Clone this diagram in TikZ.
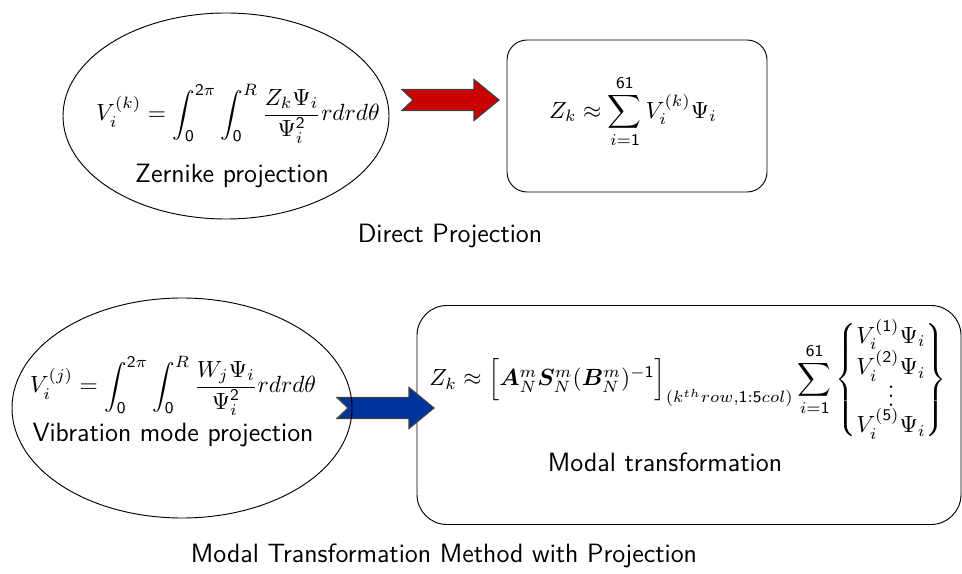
\documentclass[tikz,border=0pt]{standalone}
\usepackage{amsmath}
\usepackage{amssymb}
\usepackage{bm}
\usepackage{tikz}
\usetikzlibrary{shapes.geometric, positioning}
\definecolor{myred}{rgb}{0.80, 0.00, 0.00}
\definecolor{myblue}{rgb}{0.00, 0.20, 0.60}
% sans digits in formulas
\DeclareSymbolFont{sfdigits}{OT1}{cmss}{m}{n}
\DeclareMathSymbol{0}{\mathalpha}{sfdigits}{"30}
\DeclareMathSymbol{1}{\mathalpha}{sfdigits}{"31}
\DeclareMathSymbol{2}{\mathalpha}{sfdigits}{"32}
\DeclareMathSymbol{5}{\mathalpha}{sfdigits}{"35}
\DeclareMathSymbol{6}{\mathalpha}{sfdigits}{"36}
\tikzstyle{method} = [ellipse, draw=black, inner sep=0pt]
\tikzstyle{result} = [rectangle, draw=black, inner sep=0pt]
\tikzstyle{label} = [font=\sffamily\fontsize{11.3}{13.5}\selectfont]
\tikzstyle{formula} = [font=\fontsize{10}{12}\selectfont]
\tikzstyle{blockarrow} = [draw=black!75, line width=0.5pt]
% tail of a block arrow at #1, filled with #2
\newcommand{\blockarr}[2]{%
  \draw[blockarrow, fill=#2] (#1) ++(0,-10.5) -- ++(72,0) -- ++(0,-10) -- ++(25,20.5)
    -- ++(-25,20.5) -- ++(0,-10) -- ++(-72,0) -- ++(11,-10.5) -- cycle;}

\begin{document}
\begin{tikzpicture}[x=0.015cm, y=-0.015cm]
    \useasboundingbox (0,0) rectangle (962,574);

    % direct projection
    \node (zern) [method, minimum width=4.89cm, minimum height=3.09cm] at (226,116) {};
    \node (zernf) [formula, font=\fontsize{9.6}{11.5}\selectfont] at (238,114) {$V_i^{(k)}=\displaystyle\int_0^{2\pi}\int_0^R\frac{Z_k\Psi_i}{\Psi_i^2}rdrd\theta$};
    \node (zernl) [label] at (232,176) {Zernike projection};
    \coordinate (redtail) at (402,100);
    \blockarr{redtail}{myred}
    \node (sum) [result, rounded corners=0.3cm, minimum width=3.9cm, minimum height=2.28cm] at (637,116) {};
    \node (sumf) [formula] at (633,112) {$Z_k\approx\displaystyle\sum_{i=1}^{61}V_i^{(k)}\Psi_i$};
    \node (direct) [label] at (450,236) {Direct Projection};

    % modal transformation
    \node (modal) [result, rounded corners=0.45cm, minimum width=8.16cm, minimum height=3.285cm] at (689,415) {};
    \coordinate (bluetail) at (337,408);
    \blockarr{bluetail}{myblue}
    \node (vib) [method, minimum width=5.1cm, minimum height=3.3cm] at (182,408) {};
    \node (vibf) [formula, font=\fontsize{9.6}{11.5}\selectfont] at (173,386) {$V_i^{(j)}=\displaystyle\int_0^{2\pi}\int_0^R\frac{W_j\Psi_i}{\Psi_i^2}rdrd\theta$};
    \node (vibl) [label] at (173,435) {Vibration mode projection};
    \node (modalf) [formula] at (688,380) {$Z_k\approx\Big[\bm{A}_N^m\bm{S}_N^m(\bm{B}_N^m)^{-1}\Big]_{(k^{th}row,1:5col)}\displaystyle\sum_{i=1}^{61}\begin{Bmatrix}V_i^{(1)}\Psi_i\\[-0.5pt]V_i^{(2)}\Psi_i\\[-5pt]\vdots\\[-3pt]V_i^{(5)}\Psi_i\end{Bmatrix}$};
    \node (modall) [label] at (665,462) {Modal transformation};
    \node (method) [label] at (444,556) {Modal Transformation Method with Projection};
\end{tikzpicture}
\end{document}
